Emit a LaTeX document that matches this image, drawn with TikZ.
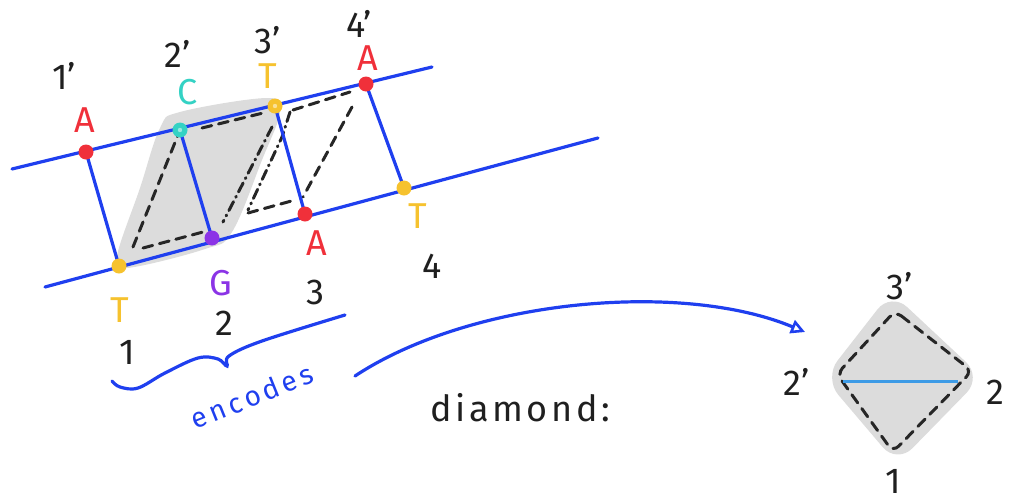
\documentclass[tikz,border=0pt]{standalone}
\usepackage{fontspec}
\setmainfont{Fira Sans}
\usepackage{tikz}
\usetikzlibrary{arrows.meta,positioning,calc}
\usepackage{xcolor}
\definecolor{penblue}{HTML}{1F3FEF}
\definecolor{lineblue}{HTML}{3D9BE6}
\definecolor{dotred}{HTML}{F0303A}
\definecolor{dotyellow}{HTML}{F6C22E}
\definecolor{dotcyan}{HTML}{34D2C4}
\definecolor{dotpurple}{HTML}{8B34E6}
\definecolor{blob}{HTML}{DCDCDC}

\begin{document}
\begin{tikzpicture}[x=1pt,y=-1pt,
    lbl/.style={font=\fontsize{36}{36}\selectfont,text=black!88,inner sep=0pt},
    pen/.style={penblue,line width=3.2pt,line cap=round},
    dsh/.style={black!85,line width=3pt,dash pattern=on 10pt off 7pt,line cap=round},
    dshdot/.style={black!85,line width=3pt,dash pattern=on 10pt off 5pt on 1pt off 5pt,line cap=round}]
  \useasboundingbox (0,0) rectangle (1009,501);
  % strand points
  \coordinate (a1) at (86,152);
  \coordinate (t1) at (119,266);
  \coordinate (c2) at (180,130);
  \coordinate (g2) at (212,238);
  \coordinate (t3) at (275,106);
  \coordinate (a3) at (305,214);
  \coordinate (a4) at (366,84);
  \coordinate (t4) at (404,188);
  \coordinate (topL) at (12,169); \coordinate (topR) at (432,67);
  \coordinate (botL) at (45,287); \coordinate (botR) at (598,138);
  % shaded part
  \fill[blob] plot[smooth cycle,tension=0.6] coordinates
    {(117,256) (140,188) (160,128) (180,112) (267,98) (280,112) (262,160) (232,232) (205,249) (127,268)};
  \draw[dsh] (133,247) -- (c2);
  \draw[dsh] (143,248) -- (203,232);
  \draw[dsh] (202,128) -- (263,113);
  \draw[dshdot] (272,127) -- (223,222);
  \draw[dshdot] (290,112) -- (282,137) -- (248,210);
  \draw[dsh] (248,213) -- (295,200);
  \draw[dsh] (293,110) -- (350,92);
  \draw[dsh] (352,107) -- (303,197);
  % strands and rungs
  \draw[pen] (topL) -- (topR);
  \draw[pen] (botL) -- (botR);
  \draw[pen] (a1) -- (t1);
  \draw[pen] (c2) -- (g2);
  \draw[pen] (t3) -- (a3);
  \draw[pen] (a4) -- (t4);
  \foreach \p/\c in {a1/dotred,t1/dotyellow,c2/dotcyan,g2/dotpurple,t3/dotyellow,a3/dotred,a4/dotred,t4/dotyellow}{\fill[\c] (\p) circle (7.5pt);}
  \foreach \p in {c2,t3}{\fill[white,opacity=0.5] (\p) circle (2.2pt);}
  \node[lbl,text=dotred] (la1) at (85,120) {A};
  \node[lbl,text=dotyellow] (lt1) at (120,310) {T};
  \node[lbl,text=dotcyan] (lc2) at (188,92) {C};
  \node[lbl,text=dotpurple] (lg2) at (221,283) {G};
  \node[lbl,text=dotyellow] (lt3) at (268,76) {T};
  \node[lbl,text=dotred] (la4) at (368,58) {A};
  \node[lbl,text=dotred] (la3) at (317,243) {A};
  \node[lbl,text=dotyellow] (lt4) at (418,216) {T};
  \node[lbl] (n1p) at (64,76) {1'};
  \node[lbl] (n2p) at (178,54) {2'};
  \node[lbl] (n3p) at (268,40) {3'};
  \node[lbl] (n4p) at (359,24) {4'};
  \node[lbl] (n1) at (127,352) {1};
  \node[lbl] (n2) at (224,323) {2};
  \node[lbl] (n3) at (315,292) {3};
  \node[lbl] (n4) at (432,266) {4};
  % brace and arrow
  \draw[pen] plot[smooth,tension=0.6] coordinates
    {(112,381) (120,387) (138,388) (165,373) (198,358) (218,359) (227,366) (229,356) (262,341) (345,315)};
  \node[font=\fontsize{28}{28}\selectfont\addfontfeatures{LetterSpace=14},text=penblue,rotate=22,inner sep=0pt] (enc) at (252,396) {encodes};
  \coordinate (arrS) at (355,376);
  \coordinate (arrE) at (805,332);
  \draw[pen,-{Triangle[open,length=14pt,width=14pt,line width=2.6pt]}] (arrS) .. controls (470,300) and (680,280) .. (arrE);
  \node[lbl,font=\fontsize{36}{36}\selectfont\addfontfeatures{LetterSpace=10}] (dia) at (520,408) {diamond:};
  % diamond
  \coordinate (d3p) at (895,311);
  \coordinate (d2p) at (837,374);
  \coordinate (d2) at (972,371);
  \coordinate (d1) at (893,452);
  \fill[blob,rounded corners=22pt] (891,292) -- (982,377) -- (897,464) -- (824,378) -- cycle;
  \draw[dsh,rounded corners=8pt] (d3p) -- (d2) -- (d1) -- (d2p) -- cycle;
  \draw[lineblue,line width=3pt] (843,381) -- (958,381);
  \node[lbl] (l3p) at (900,286) {3'};
  \node[lbl] (l2p) at (797,382) {2'};
  \node[lbl] (l2) at (995,392) {2};
  \node[lbl] (l1) at (893,481) {1};
\end{tikzpicture}
\end{document}
